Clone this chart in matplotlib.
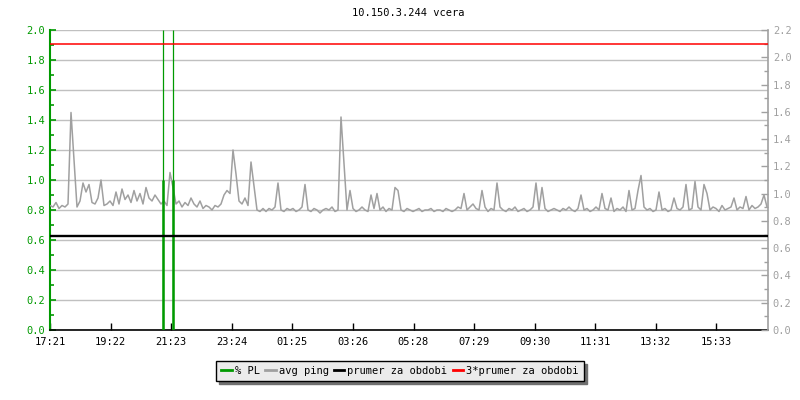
import matplotlib
matplotlib.use("Agg")
import matplotlib.pyplot as plt
import numpy as np
from matplotlib.ticker import MultipleLocator, FormatStrFormatter

# avg ping, one sample every 6 minutes from 17:21 (left axis units)
ping = [
    0.83, 0.82, 0.85, 0.81, 0.83, 0.82, 0.84, 1.45, 1.13, 0.82, 0.86, 0.98, 0.92, 0.97, 0.85, 0.84, 0.88, 1.00, 0.83, 0.84,
    0.86, 0.83, 0.92, 0.84, 0.94, 0.87, 0.90, 0.85, 0.93, 0.86, 0.91, 0.84, 0.95, 0.88, 0.86, 0.90, 0.87, 0.84, 0.86, 0.83,
    1.05, 0.95, 0.84, 0.86, 0.82, 0.85, 0.83, 0.88, 0.84, 0.82, 0.86, 0.81, 0.83, 0.82, 0.80, 0.83, 0.82, 0.84, 0.90, 0.93,
    0.91, 1.20, 1.04, 0.86, 0.84, 0.88, 0.83, 1.12, 0.96, 0.80, 0.79, 0.81, 0.79, 0.81, 0.80, 0.82, 0.98, 0.80, 0.79, 0.81,
    0.80, 0.81, 0.79, 0.80, 0.82, 0.97, 0.80, 0.79, 0.81, 0.80, 0.78, 0.80, 0.81, 0.80, 0.82, 0.79, 0.80, 1.42, 1.11, 0.80,
    0.93, 0.81, 0.79, 0.80, 0.82, 0.80, 0.79, 0.90, 0.81, 0.91, 0.80, 0.82, 0.79, 0.81, 0.80, 0.95, 0.93, 0.80, 0.79, 0.81,
    0.80, 0.79, 0.80, 0.81, 0.79, 0.80, 0.80, 0.81, 0.79, 0.80, 0.80, 0.79, 0.81, 0.80, 0.79, 0.80, 0.82, 0.81, 0.91, 0.80,
    0.82, 0.84, 0.81, 0.80, 0.93, 0.82, 0.79, 0.81, 0.80, 0.98, 0.82, 0.80, 0.79, 0.81, 0.80, 0.82, 0.79, 0.80, 0.81, 0.79,
    0.80, 0.82, 0.98, 0.80, 0.95, 0.81, 0.79, 0.80, 0.81, 0.80, 0.79, 0.81, 0.80, 0.82, 0.80, 0.79, 0.81, 0.90, 0.80, 0.81,
    0.79, 0.80, 0.82, 0.80, 0.91, 0.81, 0.80, 0.88, 0.79, 0.81, 0.80, 0.82, 0.79, 0.93, 0.80, 0.81, 0.93, 1.03, 0.82, 0.80,
    0.81, 0.79, 0.80, 0.92, 0.80, 0.81, 0.79, 0.80, 0.88, 0.81, 0.80, 0.82, 0.97, 0.80, 0.81, 0.99, 0.82, 0.80, 0.97, 0.91,
    0.80, 0.82, 0.81, 0.79, 0.83, 0.80, 0.81, 0.82, 0.88, 0.80, 0.82, 0.81, 0.89, 0.80, 0.83, 0.81, 0.82, 0.84, 0.90, 0.82,
]
step_min = 6

# packet loss events (minutes after 17:21, value)
pl_min = [225, 245]
pl_val = [1.0, 1.0]

prumer = 0.69      # right axis units
prumer3 = 2.10

tick_min = [0, 121, 242, 363, 484, 605, 727, 848, 969, 1090, 1211, 1332]
tick_lab = ["17:21", "19:22", "21:23", "23:24", "01:25", "03:26",
            "05:28", "07:29", "09:30", "11:31", "13:32", "15:33"]

GREEN = "#009a00"
GRAY = "#a0a0a0"
plt.rcParams["font.family"] = "DejaVu Sans Mono"
plt.rcParams["font.size"] = 7.5

fig = plt.figure(figsize=(8, 4), dpi=100)
ax = fig.add_axes([50 / 800, 70 / 400, 718 / 800, 300 / 400])
ax2 = ax.twinx()

x = np.arange(len(ping)) * step_min
ax.set_xlim(0, 1436)
ax.set_ylim(0, 2.0)
ax2.set_ylim(0, 2.2)

ax.yaxis.set_major_locator(MultipleLocator(0.2))
ax.yaxis.set_minor_locator(MultipleLocator(0.1))
ax.yaxis.set_major_formatter(FormatStrFormatter("%.1f"))
ax2.yaxis.set_major_locator(MultipleLocator(0.2))
ax2.yaxis.set_minor_locator(MultipleLocator(0.1))
ax2.yaxis.set_major_formatter(FormatStrFormatter("%.1f"))
ax.grid(axis="y", color="#c0c0c0", lw=1.0)
ax.set_axisbelow(True)

ax.set_xticks(tick_min)
ax.set_xticklabels(tick_lab)

# series
ax.plot(x, ping, color=GRAY, lw=1.1, zorder=3)
ax.vlines(pl_min, 0, 2.0, color=GREEN, lw=0.9, zorder=4)
ax.vlines(pl_min, 0, pl_val, color=GREEN, lw=1.8, zorder=4)
ax2.axhline(prumer, color="black", lw=1.7, zorder=5)
ax2.axhline(prumer3, color="red", lw=1.1, zorder=5)

# styling
for a in (ax, ax2):
    a.spines["top"].set_visible(False)
ax.spines["right"].set_visible(False)
ax2.spines["left"].set_visible(False)
ax2.spines["bottom"].set_visible(False)
ax.spines["left"].set_color(GREEN)
ax.spines["left"].set_linewidth(1.5)
ax2.spines["right"].set_color(GRAY)
ax2.spines["right"].set_linewidth(1.2)
ax.spines["bottom"].set_linewidth(1.2)

ax.tick_params(axis="y", which="major", direction="in", length=4, colors=GREEN, width=1.2)
ax.tick_params(axis="y", which="minor", direction="in", length=3, color=GREEN, width=1.2)
ax2.tick_params(axis="y", which="major", direction="in", length=5, colors=GRAY, width=1)
ax2.tick_params(axis="y", which="minor", direction="in", length=3, color=GRAY, width=1)
ax.tick_params(axis="x", direction="in", length=5, width=1, pad=5)

fig.text(0.51, 1 - 13 / 400, "10.150.3.244 vcera", ha="center", va="center")

handles = [
    plt.Line2D([], [], color=GREEN, lw=2),
    plt.Line2D([], [], color=GRAY, lw=2),
    plt.Line2D([], [], color="black", lw=2),
    plt.Line2D([], [], color="red", lw=2),
]
labels = ["% PL", "avg ping", "prumer za obdobi", "3*prumer za obdobi"]
leg = fig.legend(handles, labels, loc="center", bbox_to_anchor=(400 / 800, 1 - 371 / 400),
                 ncol=4, frameon=True, fancybox=False, handlelength=1.0,
                 handletextpad=0.3, columnspacing=0.5, borderpad=0.5,
                 shadow={"color": "#707070", "alpha": 1})
leg.get_frame().set_facecolor("#ebebeb")
leg.get_frame().set_edgecolor("black")
leg.get_frame().set_linewidth(1.0)
leg.get_frame().set_alpha(1)

fig.savefig("out.png", dpi=100)
